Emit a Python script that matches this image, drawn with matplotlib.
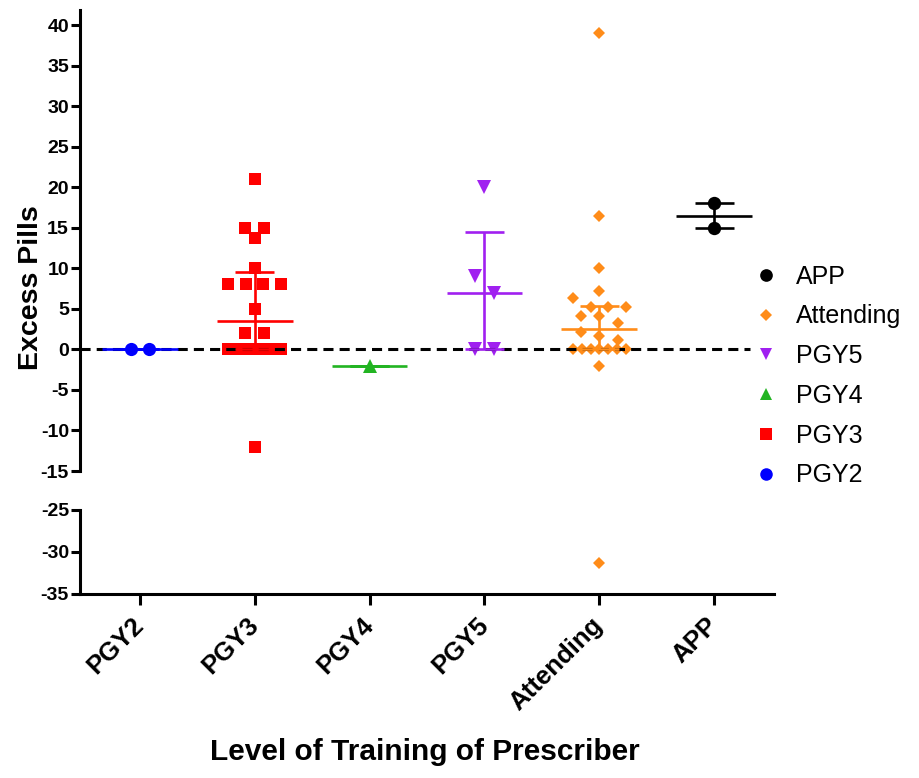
import numpy as np
import matplotlib
matplotlib.use("Agg")
import matplotlib.pyplot as plt
from matplotlib.lines import Line2D

plt.rcParams['font.family'] = ['Liberation Sans', 'DejaVu Sans']

# ---------------- data ----------------
categories = ["PGY2", "PGY3", "PGY4", "PGY5", "Attending", "APP"]
pgy2 = [0, 0]
pgy3 = [21, 15, 15, 13.7, 10, 8, 8, 8, 8, 5, 2, 2, 0, 0, 0, 0, 0, 0, 0, -12]
pgy4 = [-2]
pgy5 = [20, 9, 7, 0, 0]
attending = [39, 16.5, 10, 7.2, 6.3, 5.2, 5.2, 5.2, 4.1, 4.1, 3.3, 2.1, 1.6, 1.2,
             0, 0, 0, 0, 0, 0, 0, -2, -31.3]
app = [18, 15]
groups = [pgy2, pgy3, pgy4, pgy5, attending, app]

# summary lines (median with interquartile range)
medians = [0, 3.5, -2, 7, 2.5, 16.5]
q1 = [0, 0, -2, 0, 0, 15]
q3 = [0, 9.5, -2, 14.5, 5.3, 18]

top_ticks = [-15, -10, -5, 0, 5, 10, 15, 20, 25, 30, 35, 40]
bottom_ticks = [-35, -30, -25]

colors = ["#0000FF", "#FF0000", "#22B422", "#A020F0", "#FF8C19", "#000000"]
markers = ["o", "s", "^", "v", "D", "o"]
msizes = [9.5, 9, 9.5, 9.5, 6.4, 9.6]


def swarm_offsets(vals, binh=2.0, step=0.16, maxspan=0.46):
    vals = np.asarray(vals, float)
    rows = np.round(vals / binh).astype(int)
    off = np.zeros(len(vals))
    for r in np.unique(rows):
        idx = np.where(rows == r)[0]
        idx = idx[np.argsort(-vals[idx], kind="stable")]
        n = len(idx)
        if n > 1:
            s = min(step, maxspan / (n - 1))
            off[idx] = (np.arange(n) - (n - 1) / 2) * s
    return off


fig = plt.figure(figsize=(9.19, 7.78), dpi=100)
L, W = 80 / 919, 694 / 919
ax = fig.add_axes([L, 1 - 471 / 778, W, 461 / 778])
axb = fig.add_axes([L, 1 - 594 / 778, W, 84 / 778])

xlim = (-0.52, 5.52)
for a in (ax, axb):
    a.set_xlim(*xlim)
    a.patch.set_visible(False)
    for s in ("top", "right"):
        a.spines[s].set_visible(False)
    a.spines["left"].set_linewidth(2.2)
    a.spines["bottom"].set_linewidth(2.2)
    a.tick_params(axis="y", width=2.2, length=6.5, pad=1.5)

ax.set_ylim(-15, 41.85)
axb.set_ylim(-35, -25)
ax.spines["bottom"].set_visible(False)
ax.set_xticks([])
ax.set_yticks(top_ticks)
ax.set_yticklabels([str(t) for t in top_ticks], fontweight="bold", fontsize=14)
axb.set_yticks(bottom_ticks)
axb.set_yticklabels([str(t) for t in bottom_ticks], fontweight="bold", fontsize=14)

axb.set_xticks(range(len(categories)))
axb.set_xticklabels(categories, rotation=45, ha="right", va="center",
                    rotation_mode="anchor", fontsize=18.5, fontweight="bold")
axb.tick_params(axis="x", width=2.2, length=8, pad=12)

# zero reference line
ax.axhline(0, xmin=0, xmax=(5.31 - xlim[0]) / (xlim[1] - xlim[0]), color="black",
           lw=2.2, linestyle=(0, (3.3, 2.0)), zorder=4)

handles = []
for i, (vals, c, m, ms) in enumerate(zip(groups, colors, markers, msizes)):
    off = swarm_offsets(vals)
    xs = i + off
    for a in (ax, axb):
        a.plot(xs, vals, linestyle="none", marker=m, color=c, markersize=ms,
               markeredgewidth=0, zorder=3, clip_on=True)
    # median line and IQR
    ax.hlines(medians[i], i - 0.33, i + 0.33, color=c, lw=1.9, zorder=5)
    ax.vlines(i, q1[i], q3[i], color=c, lw=1.9, zorder=5)
    ax.hlines([q1[i], q3[i]], i - 0.17, i + 0.17, color=c, lw=1.9, zorder=5)
    handles.append(Line2D([], [], linestyle="none", marker=m, color=c,
                          markersize=ms * 0.95, markeredgewidth=0))

order = [5, 4, 3, 2, 1, 0]
fig.legend([handles[k] for k in order], [categories[k] for k in order],
           loc="center left", bbox_to_anchor=(725 / 919, 1 - 376 / 778),
           frameon=False, fontsize=18, handletextpad=0.45, labelspacing=0.63,
           handlelength=1.5)

fig.text(31 / 919, 1 - 288 / 778, "Excess Pills", rotation=90, ha="center",
         va="center", fontsize=20.5, fontweight="bold")
fig.text(425 / 919, 1 - 752 / 778, "Level of Training of Prescriber", ha="center",
         va="center", fontsize=21.5, fontweight="bold")

fig.savefig("out.png", dpi=100)
